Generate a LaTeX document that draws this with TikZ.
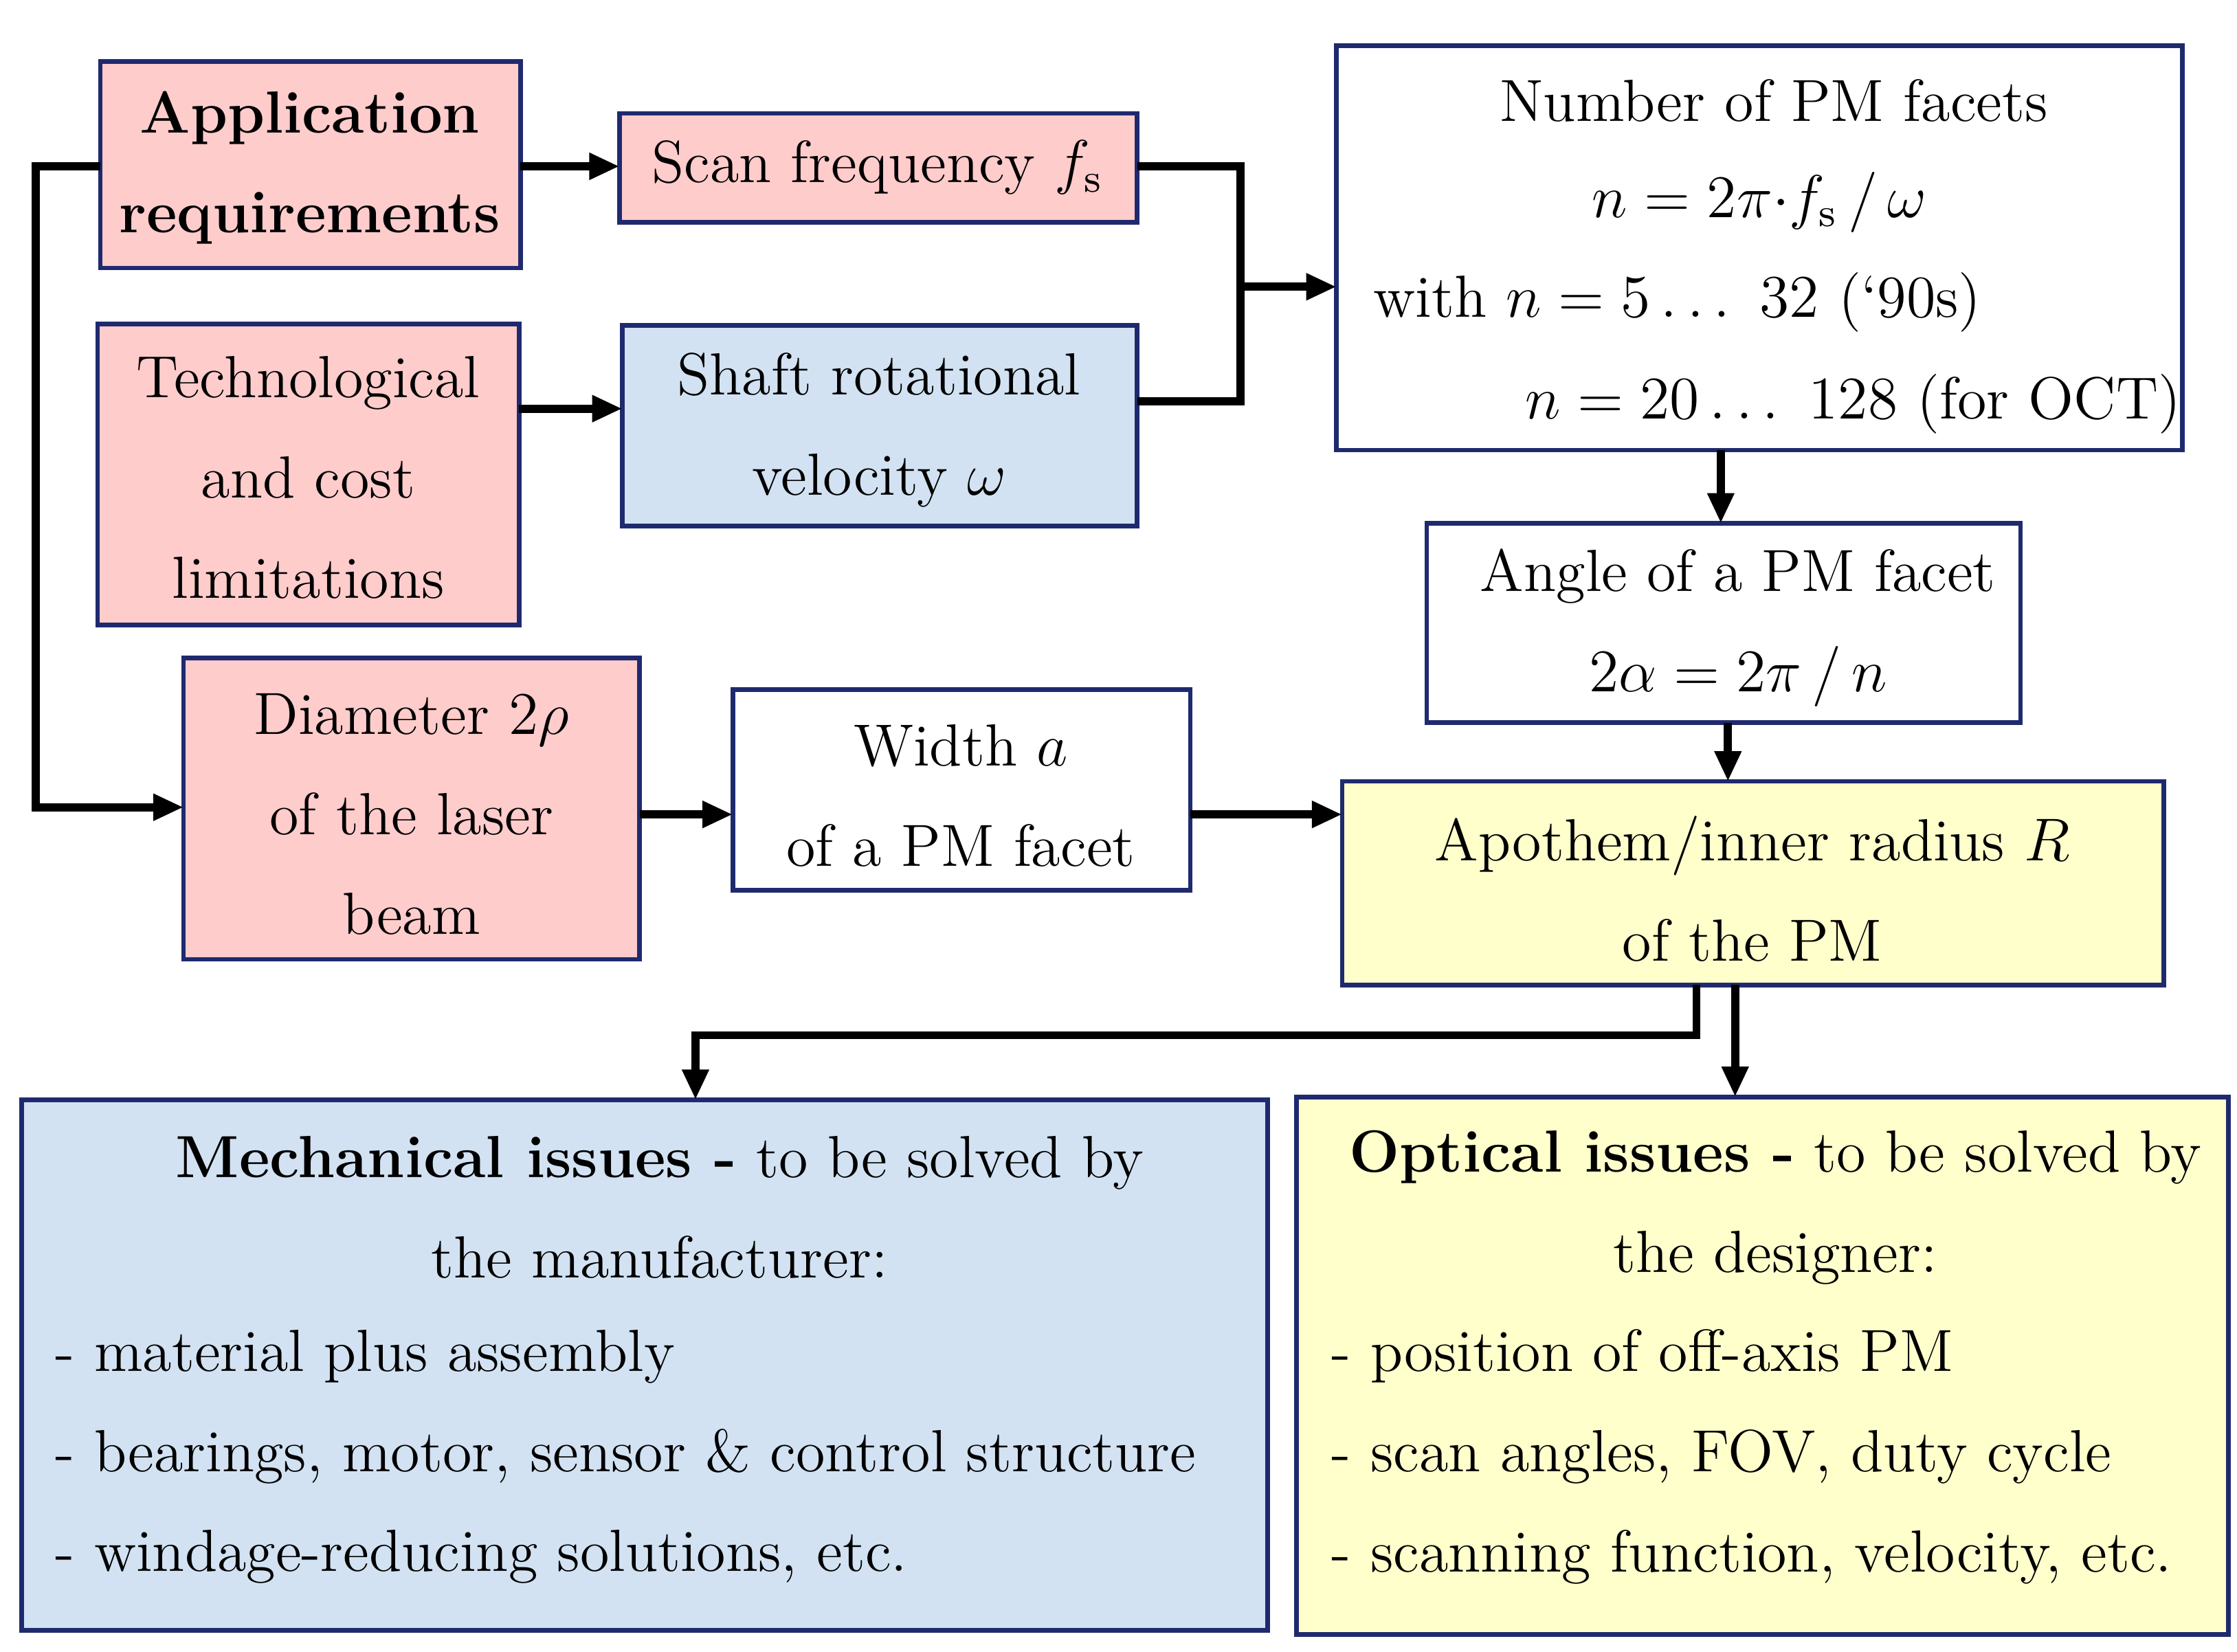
\documentclass[tikz,border=0pt]{standalone}
\usetikzlibrary{arrows.meta}
\definecolor{pk}{HTML}{FFCCCC}
\definecolor{bl}{HTML}{D2E2F2}
\definecolor{yl}{HTML}{FFFFCC}
\definecolor{bd}{HTML}{1F2A6E}
\begin{document}
\begin{tikzpicture}[x=0.01cm,y=-0.01cm,
 txt/.style={align=center,inner sep=0pt,font=\fontsize{11.8}{19.85}\selectfont},
 bx/.style={draw=bd,line width=0.9pt},
 con/.style={line width=1.6pt},
 arr/.style={con,-{Triangle[length=6pt,width=5pt]}}]
\useasboundingbox (0,0) rectangle (1560,1152);
% boxes
\draw[bx,fill=pk] (70,43) rectangle (363,187);
\node[txt] (app) at (216,117) {\textbf{Application}\\\textbf{requirements}};
\draw[bx,fill=pk] (432,79) rectangle (793,155);
\node[txt] (scan) at (612,117) {Scan frequency $f_{\mathrm{s}}$};
\draw[bx,fill=pk] (68,226) rectangle (362,436);
\node[txt] (tech) at (215,333) {Technological\\and cost\\limitations};
\draw[bx,fill=bl] (434,227) rectangle (793,367);
\node[txt] (shaft) at (613,300) {Shaft rotational\\velocity $\omega$};
\draw[bx,fill=white] (932,32) rectangle (1522,314);
\node[txt] (num1) at (1237,70) {Number of PM facets};
\node[txt] (num2) at (1227,141) {$n = 2\pi{\cdot}f_{\mathrm{s}}\,/\,\omega$};
\node[txt,anchor=west] (num3) at (957,211) {with $n = 5\ldots\ 32$ (`90s)};
\node[txt,anchor=west] (num4) at (1063,282) {$n = 20\ldots\ 128$ (for OCT)};
\draw[bx,fill=white] (995,365) rectangle (1409,504);
\node[txt] (ang) at (1212,438) {Angle of a PM facet\\$2\alpha = 2\pi\,/\,n$};
\draw[bx,fill=pk] (128,459) rectangle (446,669);
\node[txt] (dia) at (287,568) {Diameter $2\rho$\\of the laser\\beam};
\draw[bx,fill=white] (511,481) rectangle (830,621);
\node[txt] (wid) at (670,555) {Width $a$\\of a PM facet};
\draw[bx,fill=yl] (936,545) rectangle (1509,687);
\node[txt] (apo) at (1222,620) {Apothem/inner radius $R$\\of the PM};
\draw[bx,fill=bl] (15,767) rectangle (884,1137);
\node[txt] (mech) at (460,842) {\textbf{Mechanical issues -} to be solved by\\the manufacturer:};
\node[txt,align=left,anchor=west] (mechl) at (38,1016) {- material plus assembly\\- bearings, motor, sensor \& control structure\\- windage-reducing solutions, etc.};
\draw[bx,fill=yl] (904,765) rectangle (1554,1140);
\node[txt] (opt) at (1238,842) {\textbf{Optical issues -} to be solved by\\the designer:};
\node[txt,align=left,anchor=west] (optl) at (928,1016) {- position of off-axis PM\\- scan angles, FOV, duty cycle\\- scanning function, velocity, etc.};
% connectors
\coordinate (appL) at (70,116); \coordinate (appR) at (363,116);
\coordinate (scanL) at (432,116); \coordinate (scanR) at (793,116);
\coordinate (techR) at (362,285); \coordinate (shaftL) at (434,285);
\coordinate (shaftR) at (793,280);
\coordinate (j) at (865,200); \coordinate (numL) at (932,200);
\coordinate (diaL) at (128,563); \coordinate (diaR) at (446,568);
\coordinate (widL) at (511,568); \coordinate (widR) at (830,568);
\coordinate (apoL) at (936,568);
\coordinate (numB) at (1200,314); \coordinate (angT) at (1200,365);
\coordinate (angB) at (1205,504); \coordinate (apoT) at (1205,545);
\coordinate (apoB1) at (1183,687); \coordinate (apoB2) at (1210,687);
\coordinate (mechT) at (485,767); \coordinate (optT) at (1210,765);
\draw[arr] (appR) -- (scanL);
\draw[arr] (techR) -- (shaftL);
\draw[con] (scanR) -| (865,280) -- (shaftR);
\draw[arr] (j) -- (numL);
\draw[arr] (appL) -- (25,116) |- (diaL);
\draw[arr] (diaR) -- (widL);
\draw[arr] (widR) -- (apoL);
\draw[arr] (numB) -- (angT);
\draw[arr] (angB) -- (apoT);
\draw[arr] (apoB1) -- (1183,722) -| (mechT);
\draw[arr] (apoB2) -- (optT);
\end{tikzpicture}
\end{document}
